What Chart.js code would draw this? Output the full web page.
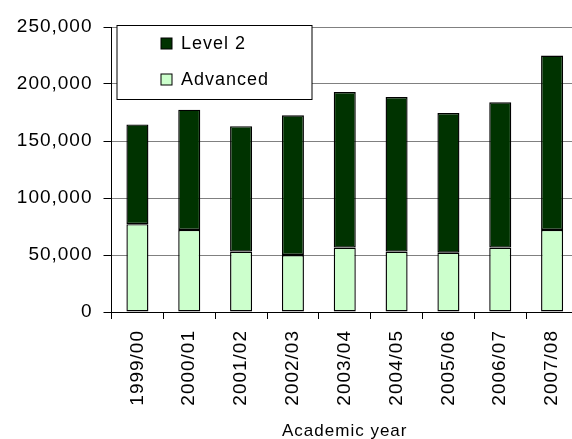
<!DOCTYPE html>
<html>
<head>
<meta charset="utf-8">
<script src="https://cdn.jsdelivr.net/npm/chart.js@4.4.1/dist/chart.umd.min.js"></script>
<style>
  html, body { margin: 0; padding: 0; background: #fff; overflow: hidden; }
  #wrap { width: 586px; height: 439px; }
</style>
</head>
<body>
<div id="wrap"><canvas id="chart" width="586" height="439"></canvas></div>
<script>
// data
const years = ['1999/00', '2000/01', '2001/02', '2002/03', '2003/04', '2004/05', '2005/06', '2006/07', '2007/08'];
const advanced = [77000, 72000, 53000, 50000, 56500, 53000, 52000, 56500, 72000];
const level2 = [87500, 105500, 110000, 122500, 136500, 135500, 122500, 127500, 153000];
const yTicks = [0, 50000, 100000, 150000, 200000, 250000];

const FONT = '"Liberation Sans", Arial, sans-serif';

// the old chart text is set a little wide
const wideText = {
    id: 'wideText',
    beforeDraw(chart) {
        chart.ctx.letterSpacing = '1px';
    }
};

// legend box drawn inside the plot, top left (Level 2 listed first)
const boxLegend = {
    id: 'boxLegend',
    afterDraw(chart) {
        const ctx = chart.ctx;
        const area = chart.chartArea;
        const x = area.left + 5.5, y = area.top - 1.5, w = 195, h = 74;
        ctx.save();
        ctx.letterSpacing = '1px';
        ctx.fillStyle = '#ffffff';
        ctx.fillRect(x, y, w, h);
        ctx.strokeStyle = '#000000';
        ctx.lineWidth = 1;
        ctx.strokeRect(x, y, w, h);
        const items = chart.data.datasets.slice().reverse();
        ctx.font = '18px ' + FONT;
        ctx.textBaseline = 'middle';
        items.forEach((ds, i) => {
            const cy = y + 18 + i * 36;
            ctx.fillStyle = ds.backgroundColor;
            ctx.fillRect(x + 44, cy - 5.5, 11, 11);
            ctx.strokeStyle = '#000000';
            ctx.strokeRect(x + 44, cy - 5.5, 11, 11);
            ctx.fillStyle = '#000000';
            ctx.fillText(ds.label, x + 64, cy + 1);
        });
        ctx.restore();
    }
};

new Chart(document.getElementById('chart'), {
    type: 'bar',
    data: {
        labels: years,
        datasets: [
            {
                label: 'Advanced',
                data: advanced,
                backgroundColor: '#ccffcc',
                borderColor: '#000000',
                borderWidth: 1.4,
                borderSkipped: false
            },
            {
                label: 'Level 2',
                data: level2,
                backgroundColor: '#003300',
                borderColor: '#000000',
                borderWidth: 1.4,
                borderSkipped: false
            }
        ]
    },
    options: {
        responsive: false,
        animation: false,
        devicePixelRatio: 1,
        layout: { padding: { top: 27, right: 2, left: 0, bottom: 0 } },
        datasets: { bar: { categoryPercentage: 1.0, barPercentage: 0.425 } },
        plugins: {
            legend: { display: false },
            tooltip: { enabled: false }
        },
        scales: {
            x: {
                stacked: true,
                afterFit(scale) { scale.height = 127; },
                border: { color: '#000000', width: 1 },
                grid: { display: true, drawOnChartArea: false, color: '#000000', tickLength: 7, offset: true },
                ticks: {
                    color: '#000000',
                    font: { family: FONT, size: 19 },
                    minRotation: 90,
                    maxRotation: 90,
                    padding: 11,
                    autoSkip: false
                },
                title: {
                    display: true,
                    text: 'Academic year',
                    color: '#000000',
                    font: { family: FONT, size: 17 },
                    padding: { top: 0, bottom: -3 }
                }
            },
            y: {
                stacked: true,
                min: 0,
                max: 250000,
                afterFit(scale) { scale.width = 111.5; },
                afterBuildTicks(scale) { scale.ticks = yTicks.map(v => ({ value: v })); },
                border: { color: '#000000', width: 1 },
                grid: { color: '#808080', tickColor: '#000000', tickLength: 8, lineWidth: 1 },
                ticks: {
                    color: '#000000',
                    font: { family: FONT, size: 19 },
                    padding: 11,
                    callback: v => v.toLocaleString('en-US')
                }
            }
        }
    },
    plugins: [wideText, boxLegend]
});
</script>
</body>
</html>
